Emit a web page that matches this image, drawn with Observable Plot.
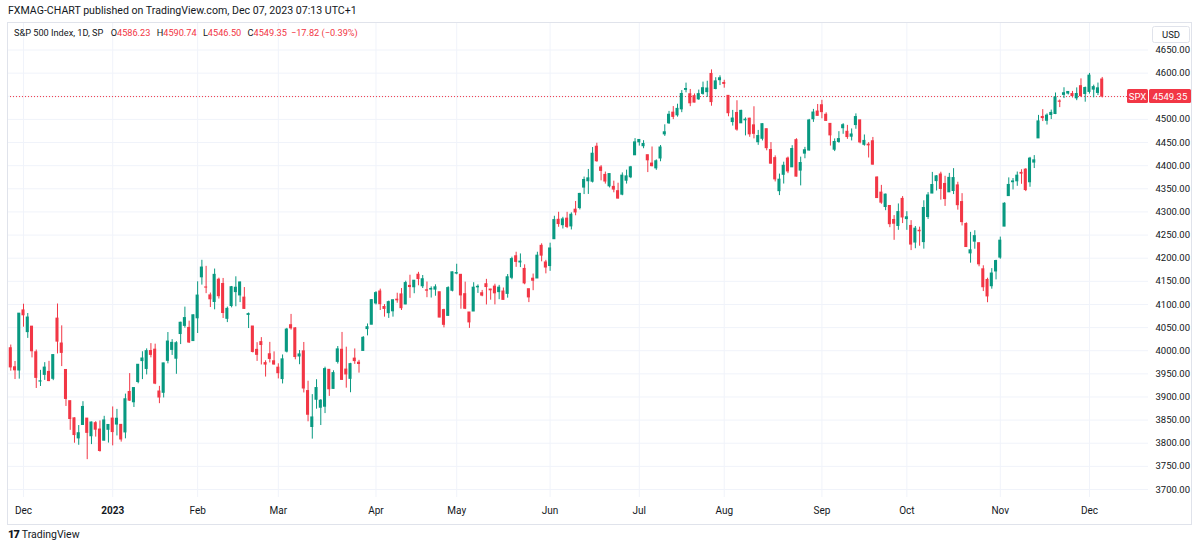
<!DOCTYPE html>
<html>
<head>
<meta charset="utf-8">
<script src="https://cdn.jsdelivr.net/npm/d3@7"></script>
<script src="https://cdn.jsdelivr.net/npm/@observablehq/plot@0.6"></script>
<style>
  body { margin: 0; background: #fff; font-family: Roboto, "Noto Sans", sans-serif; color: #131722; }
  #wrap { position: relative; width: 1200px; height: 548px; overflow: hidden; background: #fff; }
  #title { position: absolute; left: 8px; top: 4px; font-size: 10.6px; color: #131722; white-space: nowrap; }
  #chart { position: absolute; left: 0; top: 22px; }
  #legend { position: absolute; left: 14px; top: 27px; font-size: 9.2px; white-space: nowrap; color: #131722; }
  #legend .v { color: #f23645; margin-right: 4px; }
  #legend .n { margin-right: 5px; }
  #footer { position: absolute; left: 8px; top: 528px; font-size: 10.5px; white-space: nowrap; display: flex; align-items: center; gap: 3px; color: #131722; }
  #footer .logo { font-weight: 900; font-size: 11px; letter-spacing: -1px; }
</style>
</head>
<body>
<div id="wrap">
  <div id="title">FXMAG-CHART published on TradingView.com, Dec 07, 2023 07:13 UTC+1</div>
  <div id="chart"></div>
  <div id="legend"><span class="n">S&amp;P 500 Index, 1D, SP</span> O<span class="v">4586.23</span> H<span class="v">4590.74</span> L<span class="v">4546.50</span> C<span class="v">4549.35</span><span class="v">−17.82 (−0.39%)</span></div>
  <div id="footer"><span class="logo">17</span><span>TradingView</span></div>
</div>
<script>
// ---- Data (S&P 500 daily candles) ----
const dates = [
  "2022-11-28","2022-11-29","2022-11-30","2022-12-01","2022-12-02","2022-12-05","2022-12-06","2022-12-07","2022-12-08","2022-12-09","2022-12-12","2022-12-13","2022-12-14","2022-12-15","2022-12-16","2022-12-19","2022-12-20","2022-12-21","2022-12-22","2022-12-23","2022-12-27","2022-12-28","2022-12-29","2022-12-30",
  "2023-01-03","2023-01-04","2023-01-05","2023-01-06","2023-01-09","2023-01-10","2023-01-11","2023-01-12","2023-01-13","2023-01-17","2023-01-18","2023-01-19","2023-01-20","2023-01-23","2023-01-24","2023-01-25","2023-01-26","2023-01-27","2023-01-30","2023-01-31",
  "2023-02-01","2023-02-02","2023-02-03","2023-02-06","2023-02-07","2023-02-08","2023-02-09","2023-02-10","2023-02-13","2023-02-14","2023-02-15","2023-02-16","2023-02-17","2023-02-21","2023-02-22","2023-02-23","2023-02-24","2023-02-27","2023-02-28",
  "2023-03-01","2023-03-02","2023-03-03","2023-03-06","2023-03-07","2023-03-08","2023-03-09","2023-03-10","2023-03-13","2023-03-14","2023-03-15","2023-03-16","2023-03-17","2023-03-20","2023-03-21","2023-03-22","2023-03-23","2023-03-24","2023-03-27","2023-03-28","2023-03-29","2023-03-30","2023-03-31",
  "2023-04-03","2023-04-04","2023-04-05","2023-04-06","2023-04-10","2023-04-11","2023-04-12","2023-04-13","2023-04-14","2023-04-17","2023-04-18","2023-04-19","2023-04-20","2023-04-21","2023-04-24","2023-04-25","2023-04-26","2023-04-27","2023-04-28",
  "2023-05-01","2023-05-02","2023-05-03","2023-05-04","2023-05-05","2023-05-08","2023-05-09","2023-05-10","2023-05-11","2023-05-12","2023-05-15","2023-05-16","2023-05-17","2023-05-18","2023-05-19","2023-05-22","2023-05-23","2023-05-24","2023-05-25","2023-05-26","2023-05-30","2023-05-31",
  "2023-06-01","2023-06-02","2023-06-05","2023-06-06","2023-06-07","2023-06-08","2023-06-09","2023-06-12","2023-06-13","2023-06-14","2023-06-15","2023-06-16","2023-06-20","2023-06-21","2023-06-22","2023-06-23","2023-06-26","2023-06-27","2023-06-28","2023-06-29","2023-06-30",
  "2023-07-03","2023-07-05","2023-07-06","2023-07-07","2023-07-10","2023-07-11","2023-07-12","2023-07-13","2023-07-14","2023-07-17","2023-07-18","2023-07-19","2023-07-20","2023-07-21","2023-07-24","2023-07-25","2023-07-26","2023-07-27","2023-07-28","2023-07-31",
  "2023-08-01","2023-08-02","2023-08-03","2023-08-04","2023-08-07","2023-08-08","2023-08-09","2023-08-10","2023-08-11","2023-08-14","2023-08-15","2023-08-16","2023-08-17","2023-08-18","2023-08-21","2023-08-22","2023-08-23","2023-08-24","2023-08-25","2023-08-28","2023-08-29","2023-08-30","2023-08-31",
  "2023-09-01","2023-09-05","2023-09-06","2023-09-07","2023-09-08","2023-09-11","2023-09-12","2023-09-13","2023-09-14","2023-09-15","2023-09-18","2023-09-19","2023-09-20","2023-09-21","2023-09-22","2023-09-25","2023-09-26","2023-09-27","2023-09-28","2023-09-29",
  "2023-10-02","2023-10-03","2023-10-04","2023-10-05","2023-10-06","2023-10-09","2023-10-10","2023-10-11","2023-10-12","2023-10-13","2023-10-16","2023-10-17","2023-10-18","2023-10-19","2023-10-20","2023-10-23","2023-10-24","2023-10-25","2023-10-26","2023-10-27","2023-10-30","2023-10-31",
  "2023-11-01","2023-11-02","2023-11-03","2023-11-06","2023-11-07","2023-11-08","2023-11-09","2023-11-10","2023-11-13","2023-11-14","2023-11-15","2023-11-16","2023-11-17","2023-11-20","2023-11-21","2023-11-22","2023-11-24","2023-11-27","2023-11-28","2023-11-29","2023-11-30",
  "2023-12-01","2023-12-04","2023-12-05","2023-12-06"
];
const opens = [
  4005.36,3964.19,3957.18,4087.14,4040.17,4052.02,3996.63,3933.28,3947.79,3954.17,3939.29,4069.38,4015.54,3958.37,3890.91,3853.79,3810.47,3839.49,3853.26,3815.11,3843.34,3829.56,3805.45,3829.06,
  3853.29,3840.36,3839.74,3823.37,3910.82,3888.57,3932.35,3977.57,3960.60,3999.28,4002.25,3911.84,3909.04,3978.14,4001.74,3982.71,4036.08,4053.72,4049.27,4020.85,
  4070.07,4158.68,4136.69,4119.57,4105.35,4153.47,4144.25,4068.92,4096.62,4126.70,4119.50,4114.75,4077.39,4052.35,4001.83,4018.60,3973.24,3992.36,3977.19,
  3963.34,3938.68,3998.02,4055.15,4048.26,3987.55,3998.66,3912.77,3835.12,3894.01,3876.74,3878.93,3958.69,3917.47,3975.89,4002.04,3959.21,3939.21,3982.93,3974.13,3999.53,4046.74,4056.18,
  4102.20,4128.03,4094.50,4081.15,4085.20,4110.29,4121.72,4100.04,4140.11,4137.17,4164.26,4139.33,4130.48,4132.14,4132.07,4126.43,4087.78,4075.29,4129.63,
  4166.79,4164.10,4122.25,4082.61,4084.73,4136.98,4124.25,4143.74,4132.24,4138.54,4126.65,4127.95,4122.85,4157.68,4204.15,4190.78,4176.80,4132.96,4155.71,4156.16,4226.71,4190.74,
  4183.03,4241.01,4282.99,4271.34,4285.47,4268.69,4304.88,4308.32,4352.61,4366.29,4365.33,4440.95,4396.11,4380.01,4355.40,4354.17,4344.84,4337.36,4367.48,4374.94,4422.44,
  4450.48,4442.04,4422.62,4404.54,4394.23,4415.55,4467.69,4491.50,4514.61,4508.86,4521.78,4563.87,4554.38,4550.16,4543.39,4555.19,4558.96,4598.26,4565.75,4584.82,
  4578.83,4550.93,4494.27,4513.96,4491.58,4498.03,4501.57,4487.16,4450.69,4458.13,4478.87,4433.79,4416.32,4344.88,4380.28,4415.33,4396.44,4455.16,4389.38,4426.03,4432.75,4500.34,4517.01,
  4530.60,4510.06,4490.35,4434.55,4451.30,4480.98,4473.27,4462.65,4487.78,4497.98,4445.13,4445.41,4452.81,4374.36,4341.74,4310.62,4312.88,4282.63,4269.65,4328.18,
  4284.52,4269.75,4233.83,4259.31,4234.79,4289.02,4339.75,4366.59,4380.94,4360.49,4342.37,4345.23,4357.35,4321.36,4273.85,4210.40,4235.79,4232.42,4175.99,4152.93,4139.39,4171.33,
  4201.27,4268.26,4334.23,4364.27,4366.21,4384.37,4391.41,4364.15,4406.66,4458.97,4505.30,4497.08,4509.55,4511.70,4538.77,4553.04,4555.84,4554.86,4545.55,4571.84,4554.87,
  4559.43,4564.37,4557.25,4586.23
];
const highs = [
  4012.27,3976.77,4080.11,4100.51,4080.48,4052.45,4001.51,3957.57,3974.19,3977.02,3990.71,4100.96,4053.76,3958.37,3890.91,3854.86,3838.24,3889.82,3853.26,3845.80,3846.65,3848.32,3858.19,3839.85,
  3878.46,3873.16,3839.74,3906.19,3950.57,3919.83,3970.07,3997.76,4003.95,4015.39,4014.16,3922.94,3972.96,4039.31,4023.92,4019.55,4061.57,4094.21,4063.85,4077.16,
  4148.95,4195.44,4182.36,4124.63,4176.54,4156.85,4156.23,4094.36,4138.90,4159.77,4148.11,4136.54,4081.51,4052.35,4017.37,4028.30,3978.25,4018.05,3997.50,
  3971.73,3990.84,4048.29,4078.49,4050.00,4000.41,4017.81,3934.05,3905.05,3937.29,3894.26,3964.46,3958.91,3956.62,4009.08,4039.49,4007.66,3972.74,4003.83,3979.20,4030.59,4057.85,4110.75,
  4127.66,4133.13,4099.69,4107.32,4109.50,4124.26,4134.37,4150.26,4163.19,4151.72,4169.48,4162.57,4148.57,4138.02,4142.41,4126.43,4089.67,4138.24,4170.06,
  4186.92,4164.10,4148.30,4082.61,4147.02,4142.30,4130.35,4154.28,4132.80,4143.74,4141.25,4135.54,4164.67,4202.20,4212.91,4209.22,4185.68,4132.96,4165.74,4212.87,4231.10,4195.44,
  4232.43,4290.67,4299.28,4288.33,4299.19,4298.01,4322.62,4340.13,4375.37,4391.82,4439.20,4448.47,4400.15,4386.22,4382.25,4366.55,4362.06,4384.42,4390.35,4398.39,4458.48,
  4456.46,4454.06,4422.62,4440.39,4412.60,4443.64,4488.34,4517.38,4527.76,4532.85,4562.30,4578.43,4564.74,4555.00,4563.41,4580.62,4582.47,4607.07,4590.16,4594.22,
  4584.62,4550.93,4519.49,4540.34,4519.84,4503.31,4502.44,4527.37,4476.23,4490.33,4478.87,4449.95,4421.17,4381.82,4407.55,4418.59,4443.18,4458.30,4418.46,4439.56,4500.14,4521.65,4532.26,
  4541.25,4514.29,4490.35,4457.81,4473.53,4490.77,4487.11,4479.39,4511.99,4497.98,4466.36,4449.85,4461.03,4375.70,4357.40,4338.51,4313.01,4292.07,4317.27,4333.15,
  4300.58,4281.15,4268.50,4267.13,4324.10,4341.73,4385.46,4378.64,4385.85,4377.10,4383.33,4393.57,4364.20,4339.54,4276.56,4255.84,4259.38,4232.42,4183.60,4156.70,4177.47,4195.55,
  4245.64,4319.72,4373.62,4372.21,4386.26,4391.20,4393.40,4418.03,4421.76,4508.67,4521.17,4511.99,4520.12,4557.11,4542.14,4568.43,4560.31,4560.52,4568.14,4587.64,4569.89,
  4599.39,4574.06,4578.56,4590.74
];
const lows = [
  3955.77,3937.65,3938.58,4050.87,4026.63,3984.49,3918.39,3922.68,3935.83,3933.04,3935.30,3993.03,3965.65,3879.45,3827.91,3800.04,3795.62,3839.49,3764.49,3797.01,3813.22,3780.78,3805.45,3800.34,
  3794.33,3815.77,3802.42,3809.56,3890.42,3877.29,3928.54,3937.56,3947.67,3984.57,3926.59,3885.54,3897.86,3971.64,3989.79,3949.06,4013.29,4048.70,4015.55,4020.44,
  4037.20,4141.88,4123.36,4093.38,4088.39,4111.67,4069.67,4060.79,4092.67,4095.01,4103.98,4089.49,4047.95,3995.19,3976.90,3969.19,3943.08,3973.55,3968.98,
  3939.05,3928.16,3995.17,4044.61,3980.31,3969.76,3908.70,3846.32,3808.86,3873.63,3838.24,3864.11,3901.27,3916.89,3971.19,3936.17,3919.05,3909.16,3970.49,3951.53,3999.53,4032.10,4056.18,
  4098.79,4086.87,4072.56,4069.84,4072.55,4102.61,4086.94,4099.40,4113.20,4123.18,4140.36,4134.49,4114.57,4113.86,4117.77,4071.38,4049.35,4075.29,4127.18,
  4164.12,4089.72,4088.86,4048.28,4084.73,4123.81,4116.65,4098.92,4109.29,4099.12,4110.27,4109.86,4113.62,4153.50,4180.20,4179.68,4142.54,4103.98,4129.73,4156.16,4192.18,4166.15,
  4171.64,4241.01,4266.82,4263.09,4263.96,4261.07,4291.70,4304.37,4337.54,4337.85,4362.60,4407.44,4367.19,4360.14,4351.82,4341.34,4328.08,4335.00,4360.22,4371.97,4422.44,
  4442.29,4436.61,4385.05,4397.40,4389.92,4408.46,4463.23,4489.36,4499.56,4504.90,4514.59,4557.48,4527.56,4535.79,4541.29,4552.42,4547.58,4528.56,4564.01,4573.14,
  4567.53,4505.75,4485.54,4474.55,4491.15,4464.39,4461.33,4457.92,4443.98,4453.44,4432.19,4403.55,4364.83,4335.31,4360.30,4382.77,4396.44,4375.55,4356.29,4414.98,4431.68,4493.59,4507.39,
  4501.35,4496.01,4442.38,4430.46,4448.38,4467.89,4456.83,4453.52,4478.69,4447.21,4442.11,4416.61,4401.38,4329.17,4316.49,4302.70,4265.98,4238.63,4260.21,4274.86,
  4260.21,4216.45,4220.48,4225.91,4219.55,4283.79,4339.64,4345.34,4325.43,4311.97,4342.37,4337.54,4303.84,4269.69,4223.03,4189.22,4219.43,4181.42,4127.90,4103.78,4132.94,4153.12,
  4197.74,4268.26,4334.23,4347.53,4355.41,4359.76,4343.94,4353.34,4393.82,4458.97,4495.31,4487.83,4499.66,4510.36,4525.51,4545.05,4552.80,4546.32,4540.51,4547.15,4537.24,
  4554.71,4546.72,4551.68,4546.50
];
const closes = [
  3963.94,3957.63,4080.11,4076.57,4071.70,3998.84,3941.26,3933.92,3963.51,3934.38,3990.56,4019.65,3995.32,3895.75,3852.36,3817.66,3821.62,3878.44,3822.39,3844.82,3829.25,3783.22,3849.28,3839.50,
  3824.14,3852.97,3808.10,3895.08,3892.09,3919.25,3969.61,3983.17,3999.09,3990.97,3928.86,3898.85,3972.61,4019.81,4016.95,4016.22,4060.43,4070.56,4017.77,4076.60,
  4119.21,4179.76,4136.48,4111.08,4164.00,4117.86,4081.50,4090.46,4137.29,4136.13,4147.60,4090.41,4079.09,3997.34,3991.05,4012.32,3970.04,3982.24,3970.15,
  3951.39,3981.35,4045.64,4048.42,3986.37,3992.01,3918.32,3861.59,3855.76,3919.29,3891.93,3960.28,3916.64,3951.57,4002.87,3936.97,3948.72,3970.99,3977.53,3971.27,4027.81,4050.83,4109.31,
  4124.51,4100.60,4090.38,4105.02,4109.11,4108.94,4091.95,4146.22,4137.64,4151.32,4154.87,4154.52,4129.79,4133.52,4137.04,4071.63,4055.99,4135.35,4169.48,
  4167.87,4119.58,4090.75,4061.22,4136.25,4138.12,4119.17,4137.64,4130.62,4124.08,4136.28,4109.90,4158.77,4198.05,4191.98,4192.63,4145.58,4115.24,4151.28,4205.45,4205.52,4179.83,
  4221.02,4282.37,4273.79,4283.85,4267.52,4293.93,4298.86,4338.93,4369.01,4372.59,4425.84,4409.59,4388.71,4365.69,4381.89,4348.33,4328.82,4378.41,4376.86,4396.44,4450.38,
  4455.59,4446.82,4411.59,4398.95,4409.53,4439.26,4472.16,4510.04,4505.42,4522.79,4554.98,4565.72,4534.87,4536.34,4554.64,4567.46,4566.75,4537.41,4582.23,4588.96,
  4576.73,4513.39,4501.89,4478.03,4518.44,4499.38,4467.71,4468.83,4464.05,4489.72,4437.86,4404.33,4370.36,4369.71,4399.77,4387.55,4436.01,4376.31,4405.71,4433.31,4497.63,4514.87,4507.66,
  4515.77,4496.83,4465.48,4451.14,4457.49,4487.46,4461.90,4467.44,4505.10,4450.32,4453.53,4443.95,4402.20,4330.00,4320.06,4337.44,4273.53,4274.51,4299.70,4288.05,
  4288.39,4229.45,4263.75,4258.19,4308.50,4335.66,4358.24,4376.95,4349.61,4327.78,4373.63,4373.20,4314.60,4278.00,4224.16,4217.04,4247.68,4186.77,4137.23,4117.37,4166.82,4193.80,
  4237.86,4317.78,4358.34,4365.98,4378.38,4382.78,4347.35,4415.24,4411.55,4495.70,4502.88,4508.24,4514.02,4547.38,4538.19,4556.62,4559.34,4550.43,4554.89,4550.58,4567.80,
  4594.63,4569.78,4567.18,4549.35
];
const monthLabels = ["Dec","2023","Feb","Mar","Apr","May","Jun","Jul","Aug","Sep","Oct","Nov","Dec"];
const priceTicks = [3700,3750,3800,3850,3900,3950,4000,4050,4100,4150,4200,4250,4300,4350,4400,4450,4500,4550,4600,4650];
const symbolLabel = "SPX";

// ---- Build table ----
const candles = dates.map((d, i) => ({i, date: d, open: opens[i], high: highs[i], low: lows[i], close: closes[i]}));
const up = candles.filter(d => d.close >= d.open);
const dn = candles.filter(d => d.close < d.open);
const monthStarts = [];
for (let i = 1; i < dates.length; i++) if (dates[i].slice(0, 7) !== dates[i - 1].slice(0, 7)) monthStarts.push(i);
const monthTicks = monthStarts.map((i, k) => ({i, label: monthLabels[k]}));
const last = candles[candles.length - 1];
// the last-price badge hides the axis label it sits on
const labelTicks = priceTicks.filter(t => Math.abs(t - last.close) > 15);

const UP = "#089981", DN = "#f23645", GRID = "#f0f3fa", TXT = "#131722";

const chart = Plot.plot({
  width: 1200,
  height: 503,
  marginLeft: 7,
  marginRight: 52,
  marginTop: 0,
  marginBottom: 28,
  x: {domain: [-0.77, 267.9], axis: null},
  y: {domain: [3682.7, 4709.5], axis: null},
  style: {fontFamily: "Roboto, 'Noto Sans', sans-serif", color: TXT, background: "transparent", overflow: "visible"},
  marks: [
    Plot.ruleY(priceTicks, {stroke: GRID, strokeWidth: 1}),
    Plot.ruleX(monthTicks, {x: "i", stroke: GRID, strokeWidth: 1}),
    Plot.ruleY([last.close], {stroke: DN, strokeWidth: 1, strokeDasharray: "1,2"}),
    Plot.ruleX(up, {x: "i", y1: "low", y2: "high", stroke: UP, strokeWidth: 1}),
    Plot.ruleX(dn, {x: "i", y1: "low", y2: "high", stroke: DN, strokeWidth: 1}),
    Plot.rect(up, {x1: d => d.i - 0.36, x2: d => d.i + 0.36, y1: "open", y2: "close", fill: UP, insetTop: -0.5, insetBottom: -0.5}),
    Plot.rect(dn, {x1: d => d.i - 0.36, x2: d => d.i + 0.36, y1: "open", y2: "close", fill: DN, insetTop: -0.5, insetBottom: -0.5}),
    Plot.axisY(labelTicks, {anchor: "right", tickSize: 0, tickPadding: 7, tickFormat: d => d.toFixed(2), fontSize: 9.5, fill: TXT, label: null}),
    Plot.text(monthTicks.filter(d => d.label !== "2023"), {x: "i", text: "label", frameAnchor: "bottom", dy: 16, fontSize: 10, fill: TXT}),
    Plot.text(monthTicks.filter(d => d.label === "2023"), {x: "i", text: "label", frameAnchor: "bottom", dy: 16, fontSize: 10, fontWeight: "bold", fill: TXT})
  ]
});
document.getElementById("chart").appendChild(chart);

// overlays: panel border, USD box, last price labels
const svg = d3.select(chart);
const ys = chart.scale("y").apply(last.close);
svg.append("rect").attr("x", 7.5).attr("y", 0.5).attr("width", 1184).attr("height", 502).attr("fill", "none").attr("stroke", "#e0e3eb");
svg.append("rect").attr("x", 1150).attr("y", 1).attr("width", 41).attr("height", 23).attr("fill", "#fff");
svg.append("rect").attr("x", 1152.5).attr("y", 4.5).attr("width", 37).attr("height", 16).attr("rx", 2).attr("fill", "#fff").attr("stroke", "#e0e3eb");
svg.append("text").attr("x", 1171).attr("y", 12.5).attr("text-anchor", "middle").attr("dominant-baseline", "central")
  .attr("font-size", 9.5).attr("fill", TXT).attr("font-family", "Roboto, sans-serif").text("USD");
svg.append("rect").attr("x", 1127).attr("y", ys - 7).attr("width", 21).attr("height", 14).attr("rx", 1.5).attr("fill", DN);
svg.append("text").attr("x", 1137.5).attr("y", ys).attr("text-anchor", "middle").attr("dominant-baseline", "central")
  .attr("font-size", 9.5).attr("fill", "#fff").attr("font-family", "Roboto, sans-serif").text(symbolLabel);
svg.append("rect").attr("x", 1149).attr("y", ys - 7).attr("width", 42).attr("height", 14).attr("rx", 1.5).attr("fill", DN);
svg.append("text").attr("x", 1170).attr("y", ys).attr("text-anchor", "middle").attr("dominant-baseline", "central")
  .attr("font-size", 9.5).attr("fill", "#fff").attr("font-family", "Roboto, sans-serif").text(last.close.toFixed(2));
</script>
</body>
</html>
